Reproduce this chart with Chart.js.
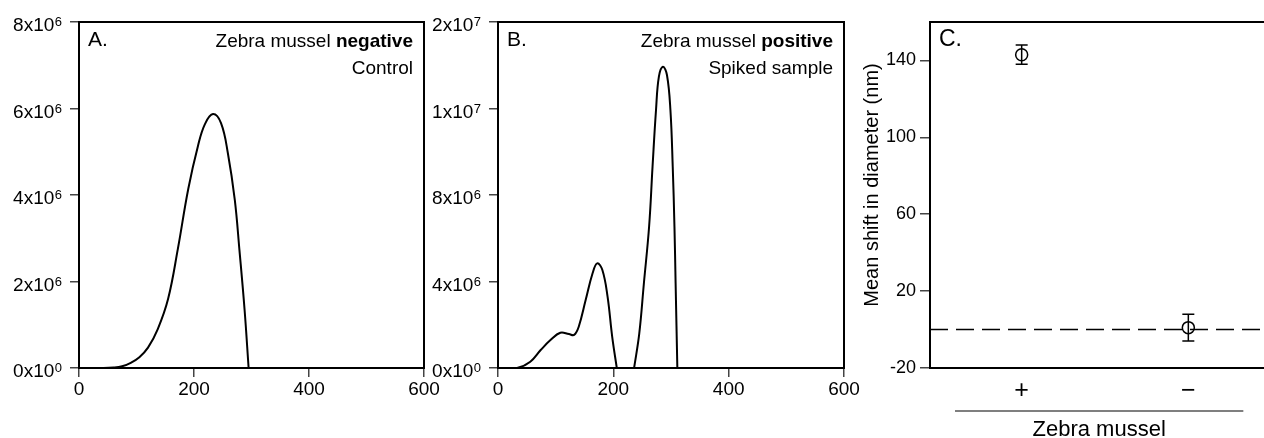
<!DOCTYPE html>
<html>
<head>
<meta charset="utf-8">
<script src="https://cdn.jsdelivr.net/npm/chart.js@4.4.1/dist/chart.umd.min.js"></script>
<style>
    html, body { margin: 0; padding: 0; background: #fff; overflow: hidden; }
    #wrap { position: relative; width: 1264px; height: 438px; overflow: hidden; }
    canvas { position: absolute; top: 0; }
</style>
</head>
<body>
<div id="wrap">
    <canvas id="chartA" width="440" height="438" style="left:0px"></canvas>
    <canvas id="chartB" width="440" height="438" style="left:420px"></canvas>
    <canvas id="chartC" width="450" height="438" style="left:850px"></canvas>
</div>
<script>
// Panel A - zebra mussel negative (control)
const sizeA = [0, 40, 60, 75, 90, 105, 120, 137, 155, 172, 190, 207, 219, 233, 247, 259, 271, 279, 288, 295];
const countA = [0, 0, 0.01e6, 0.04e6, 0.12e6, 0.25e6, 0.47e6, 0.9e6, 1.6e6, 2.76e6, 4.14e6, 5.14e6, 5.64e6, 5.87e6, 5.66e6, 4.96e6, 3.88e6, 2.73e6, 1.34e6, 0];
const yTicksA = [0, 2e6, 4e6, 6e6, 8e6];
const yLabelsA = ['0x10^0', '2x10^6', '4x10^6', '6x10^6', '8x10^6'];

// Panel B - zebra mussel positive (spiked sample)
const sizeB = [0, 33, 56, 74, 91, 108, 123, 132, 140, 152, 164, 172, 181, 190, 198, 206, 221, 236, 245, 253, 262, 268, 274, 279, 286, 293, 299, 303, 306, 308, 311];
const countB = [0, 0, 0.29e6, 0.83e6, 1.29e6, 1.63e6, 1.57e6, 1.53e6, 1.91e6, 3.14e6, 4.38e6, 4.84e6, 4.53e6, 3.3e6, 1.45e6, 0, null, 0, 1.6e6, 3.92e6, 6.53e6, 9.31e6, 11.93e6, 13.47e6, 13.93e6, 13.55e6, 11.93e6, 9.31e6, 6.53e6, 3.92e6, 0];
const yTicksB = [0, 4e6, 8e6, 1.2e7, 1.6e7];
const yLabelsB = ['0x10^0', '4x10^6', '8x10^6', '1x10^7', '2x10^7'];

const xTicksAB = [0, 200, 400, 600];

// Panel C - mean shift in diameter
const groupX = [1, 2];
const groupLabels = ['+', '\u2212'];
const meanShift = [143, 1];
const shiftErr = [5, 7];
const yTicksC = [-20, 20, 60, 100, 140];

const FONT = '"Liberation Sans", Arial, Helvetica, sans-serif';
Chart.defaults.font.family = FONT;
Chart.defaults.color = '#000';

// box around the plot area
const framePlugin = {
    id: 'frame',
    afterDraw(chart) {
        const a = chart.chartArea;
        const ctx = chart.ctx;
        ctx.save();
        ctx.strokeStyle = '#000';
        ctx.lineWidth = 2;
        ctx.strokeRect(a.left, a.top, a.right - a.left, a.bottom - a.top);
        ctx.restore();
    }
};

// y labels like 4x10^6 with a raised exponent
const sciLabelsPlugin = {
    id: 'sciLabels',
    afterDraw(chart, args, opts) {
        if (!opts.values) return;
        const ctx = chart.ctx;
        const y = chart.scales.y;
        ctx.save();
        ctx.fillStyle = '#000';
        ctx.textAlign = 'right';
        ctx.textBaseline = 'alphabetic';
        opts.values.forEach((v, i) => {
            const parts = opts.labels[i].split('^');
            const py = y.getPixelForValue(v);
            const right = y.right - 17;
            ctx.font = '13px ' + FONT;
            const ew = ctx.measureText(parts[1]).width;
            ctx.fillText(parts[1], right, py + 4);
            ctx.font = '19px ' + FONT;
            ctx.fillText(parts[0], right - ew - 0.5, py + 9);
        });
        ctx.restore();
    }
};

// panel letter and the text in the top right corner
const panelTextPlugin = {
    id: 'panelText',
    afterDraw(chart, args, opts) {
        const ctx = chart.ctx;
        const a = chart.chartArea;
        ctx.save();
        ctx.fillStyle = '#000';
        ctx.textBaseline = 'alphabetic';
        ctx.textAlign = 'left';
        ctx.font = (opts.letterSize || 21) + 'px ' + FONT;
        ctx.fillText(opts.letter, a.left + 9, a.top + 24);
        if (opts.parts) {
            ctx.textAlign = 'right';
            let x = a.right - 11;
            for (let i = opts.parts.length - 1; i >= 0; i--) {
                const p = opts.parts[i];
                ctx.font = (p[1] ? 'bold ' : '') + '19px ' + FONT;
                ctx.fillText(p[0], x, a.top + 25);
                x -= ctx.measureText(p[0]).width;
            }
            ctx.font = '19px ' + FONT;
            ctx.fillText(opts.sub, a.right - 11, a.top + 52);
        }
        if (opts.yTitle) {
            // axis title sits a little above the centre of the axis in the original
            ctx.translate(a.left - 58, (a.top + a.bottom) / 2 - 10);
            ctx.rotate(-Math.PI / 2);
            ctx.textAlign = 'center';
            ctx.textBaseline = 'middle';
            ctx.font = '20px ' + FONT;
            ctx.fillText(opts.yTitle, 0, 0);
        }
        ctx.restore();
    }
};

function sizeScales(yTicks, yMax, yWidth) {
    return {
        x: {
            type: 'linear', min: 0, max: 600,
            afterBuildTicks: s => { s.ticks = xTicksAB.map(v => ({ value: v })); },
            ticks: { font: { size: 19 }, color: '#000', padding: 1, maxRotation: 0 },
            grid: { drawOnChartArea: false, tickLength: 9, color: '#444', lineWidth: 1.5 },
            border: { display: false },
            afterFit: s => { s.height = 70; s.paddingLeft = 0; s.paddingRight = 0; }
        },
        y: {
            min: 0, max: yMax,
            afterBuildTicks: s => { s.ticks = yTicks.map(v => ({ value: v })); },
            ticks: { callback: () => '' },
            grid: { drawOnChartArea: false, tickLength: 9, color: '#444', lineWidth: 1.5 },
            border: { display: false },
            afterFit: s => { s.width = yWidth; s.paddingTop = 0; s.paddingBottom = 0; }
        }
    };
}

function curveChart(id, xs, ys, yTicks, yLabels, yMax, yWidth, text) {
    return new Chart(document.getElementById(id), {
        type: 'line',
        data: {
            datasets: [{
                data: xs.map((x, i) => ({ x: x, y: ys[i] })),
                borderColor: '#000',
                borderWidth: 2,
                pointRadius: 0,
                fill: false,
                tension: 0.4,
                spanGaps: false
            }]
        },
        options: {
            responsive: false,
            animation: false,
            events: [],
            layout: { padding: { top: 22, right: 16, left: 0, bottom: 0 } },
            plugins: {
                legend: { display: false },
                tooltip: { enabled: false },
                sciLabels: { values: yTicks, labels: yLabels },
                panelText: text
            },
            scales: sizeScales(yTicks, yMax, yWidth)
        },
        plugins: [framePlugin, sciLabelsPlugin, panelTextPlugin]
    });
}

curveChart('chartA', sizeA, countA, yTicksA, yLabelsA, 8e6, 79, {
    letter: 'A.', parts: [['Zebra mussel ', false], ['negative', true]], sub: 'Control'
});
curveChart('chartB', sizeB, countB, yTicksB, yLabelsB, 1.6e7, 78, {
    letter: 'B.', parts: [['Zebra mussel ', false], ['positive', true]], sub: 'Spiked sample'
});

// error bars for panel C
const errorBarPlugin = {
    id: 'errorBars',
    afterDatasetsDraw(chart) {
        const ctx = chart.ctx;
        const x = chart.scales.x, y = chart.scales.y;
        ctx.save();
        ctx.strokeStyle = '#000';
        ctx.lineWidth = 1.5;
        groupX.forEach((g, i) => {
            const px = x.getPixelForValue(g);
            const top = y.getPixelForValue(meanShift[i] + shiftErr[i]);
            const bot = y.getPixelForValue(meanShift[i] - shiftErr[i]);
            ctx.beginPath();
            ctx.moveTo(px, top); ctx.lineTo(px, bot);
            ctx.moveTo(px - 6, top); ctx.lineTo(px + 6, top);
            ctx.moveTo(px - 6, bot); ctx.lineTo(px + 6, bot);
            ctx.stroke();
        });
        ctx.restore();
    }
};

// grouping line and label under the x axis of panel C
const groupLinePlugin = {
    id: 'groupLine',
    afterDraw(chart) {
        const ctx = chart.ctx;
        const x = chart.scales.x;
        const x0 = x.getPixelForValue(0.6), x1 = x.getPixelForValue(2.33);
        ctx.save();
        ctx.strokeStyle = '#555';
        ctx.lineWidth = 1.5;
        ctx.beginPath();
        ctx.moveTo(x0, 411); ctx.lineTo(x1, 411);
        ctx.stroke();
        ctx.fillStyle = '#000';
        ctx.font = '22px ' + FONT;
        ctx.textAlign = 'center';
        ctx.textBaseline = 'alphabetic';
        ctx.fillText('Zebra mussel', (x0 + x1) / 2, 436);
        ctx.restore();
    }
};

new Chart(document.getElementById('chartC'), {
    type: 'scatter',
    data: {
        datasets: [{
            data: groupX.map((g, i) => ({ x: g, y: meanShift[i] })),
            borderColor: '#000',
            backgroundColor: 'rgba(0,0,0,0)',
            borderWidth: 1.5,
            pointRadius: 6,
            pointStyle: 'circle'
        }, {
            type: 'line',
            data: [{ x: 0.45, y: 0 }, { x: 2.55, y: 0 }],
            borderColor: '#000',
            borderWidth: 1.5,
            borderDash: [18, 8],
            pointRadius: 0
        }]
    },
    options: {
        responsive: false,
        animation: false,
        events: [],
        layout: { padding: { top: 22, right: 20, left: 0, bottom: 0 } },
        plugins: {
            legend: { display: false },
            tooltip: { enabled: false },
            panelText: { letter: 'C.', letterSize: 23, yTitle: 'Mean shift in diameter (nm)' }
        },
        scales: {
            x: {
                type: 'linear', min: 0.45, max: 2.55,
                afterBuildTicks: s => { s.ticks = groupX.map(v => ({ value: v })); },
                ticks: {
                    font: { size: 25 }, color: '#000', padding: 8, maxRotation: 0,
                    callback: v => groupLabels[groupX.indexOf(v)]
                },
                grid: { display: false, drawTicks: false },
                border: { display: false },
                afterFit: s => { s.height = 70; s.paddingLeft = 0; s.paddingRight = 0; }
            },
            y: {
                min: -20, max: 160,
                afterBuildTicks: s => { s.ticks = yTicksC.map(v => ({ value: v })); },
                ticks: { font: { size: 18 }, color: '#000', padding: 4 },
                grid: { drawOnChartArea: false, tickLength: 10, color: '#444', lineWidth: 1.5 },
                border: { display: false },
                afterFit: s => { s.width = 80; s.paddingTop = 0; s.paddingBottom = 0; }
            }
        }
    },
    plugins: [framePlugin, errorBarPlugin, panelTextPlugin, groupLinePlugin]
});
</script>
</body>
</html>
